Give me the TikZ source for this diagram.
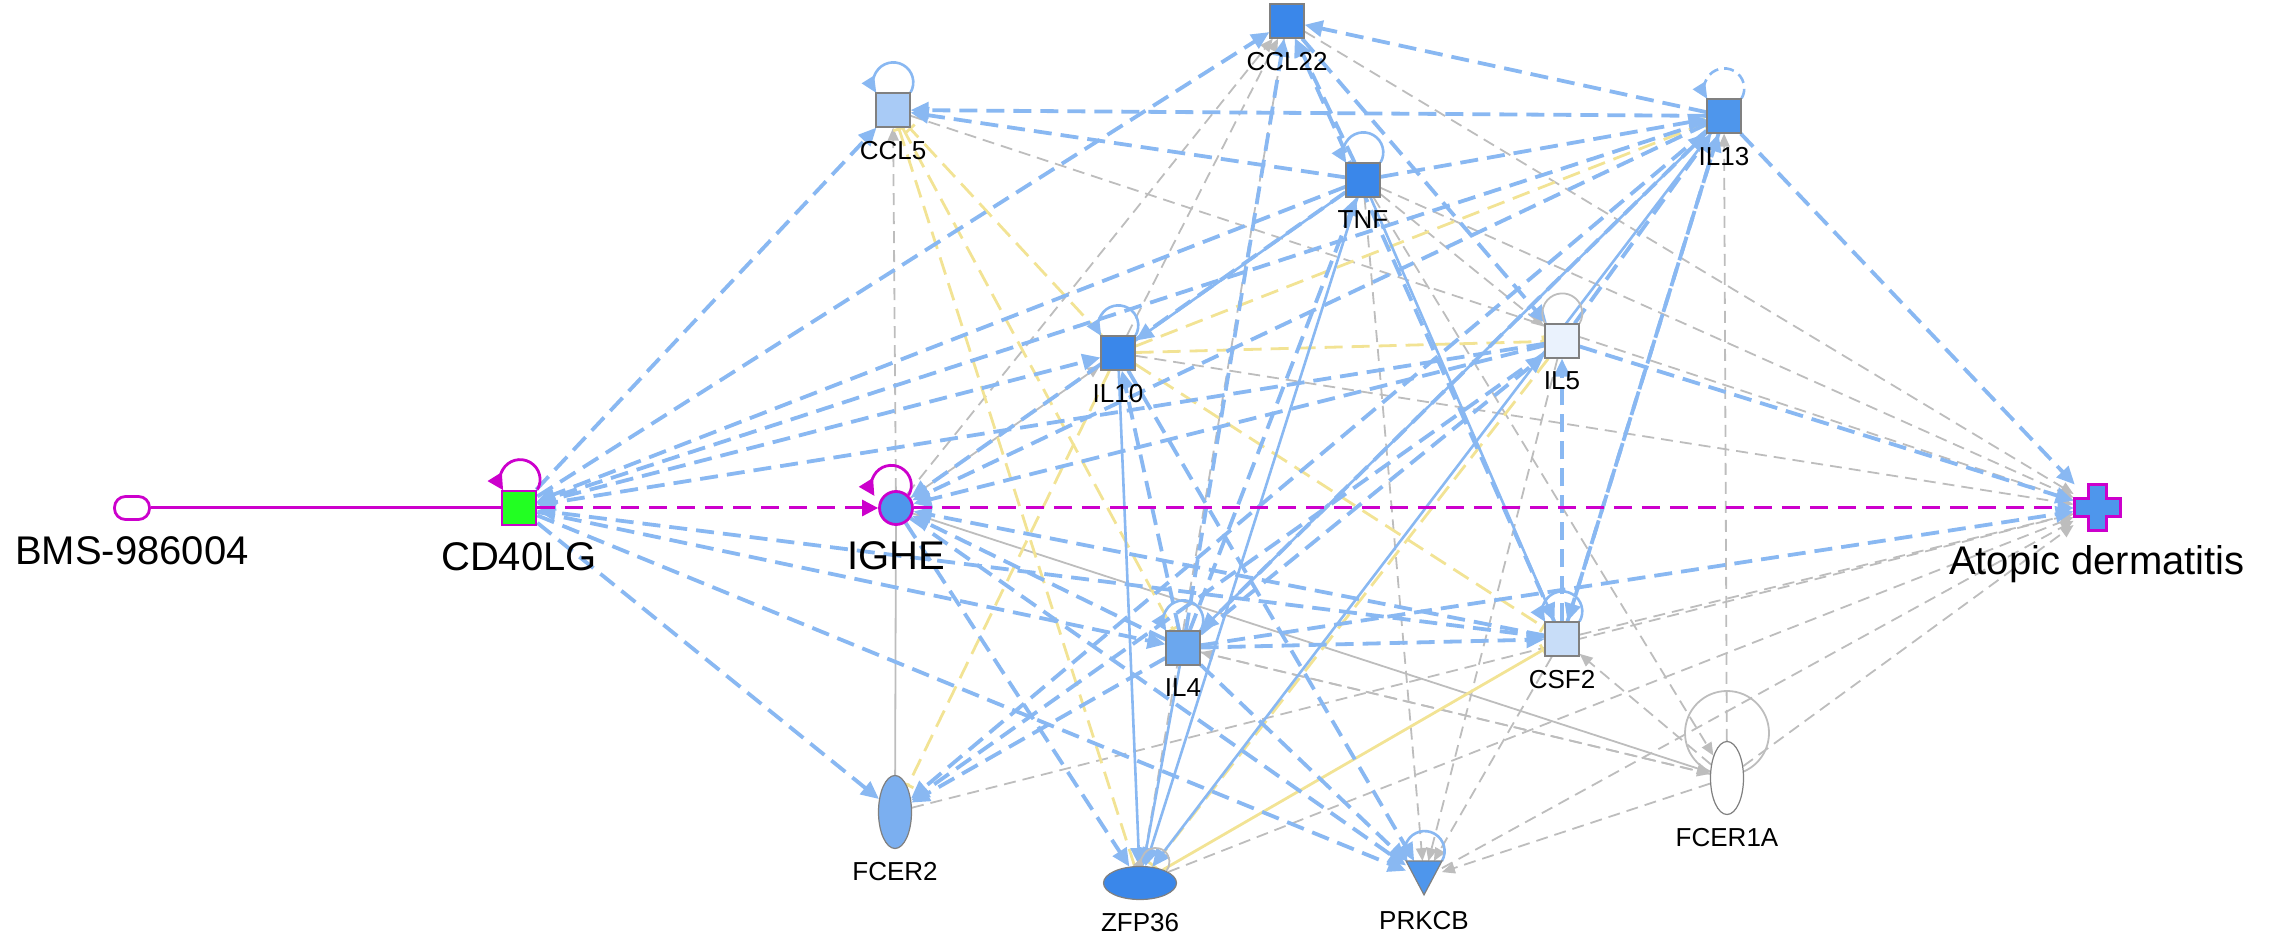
\documentclass[tikz,border=0pt]{standalone}
\usepackage{fontspec}
\setmainfont{Liberation Sans}
\usetikzlibrary{arrows.meta,positioning,shapes.geometric,backgrounds}

\definecolor{hilite}{HTML}{CC00CC}
\definecolor{linkblue}{HTML}{89B8F2}
\definecolor{linkgray}{HTML}{BDBDBD}
\definecolor{linkyellow}{HTML}{F2E394}
\definecolor{nodeline}{HTML}{808080}
\definecolor{upstrong}{HTML}{3A87EA}
\definecolor{upmid}{HTML}{4E96EC}
\definecolor{upil4}{HTML}{6BA7EE}
\definecolor{upfcer}{HTML}{7BAFF0}
\definecolor{upccl}{HTML}{A9CBF6}
\definecolor{upcsf}{HTML}{C8DDF8}
\definecolor{upweak}{HTML}{EAF2FD}
\definecolor{cdgreen}{HTML}{22FF22}

\tikzset{
  gene/.style={rectangle, draw=nodeline, line width=0.6pt, minimum width=17pt, minimum height=17pt, inner sep=0pt},
  tallnode/.style={ellipse, draw=nodeline, line width=0.6pt, minimum width=16.5pt, minimum height=36.5pt, inner sep=0pt},
  widenode/.style={ellipse, draw=nodeline, line width=0.6pt, minimum width=36.5pt, minimum height=16.5pt, inner sep=0pt},
  lbl/.style={inner sep=0pt, font=\fontsize{13}{15}\selectfont},
  biglbl/.style={inner sep=0pt, font=\fontsize{20}{24}\selectfont},
  bd/.style={linkblue, line width=1.9pt, dash pattern=on 9pt off 4.5pt, -{Triangle[length=9pt,width=8pt]}},
  bs/.style={linkblue, line width=1.3pt, -{Triangle[length=9pt,width=8pt]}},
  gd/.style={linkgray, line width=0.9pt, dash pattern=on 6pt off 3.5pt, -{Triangle[length=6.5pt,width=5.5pt]}},
  gs/.style={linkgray, line width=0.9pt, -{Triangle[length=6.5pt,width=5.5pt]}},
  yd/.style={linkyellow, line width=1.4pt, dash pattern=on 9pt off 4.5pt, -{Bar[width=6pt]}},
  ys/.style={linkyellow, line width=1.4pt, -{Bar[width=6pt]}},
  md/.style={hilite, line width=1.5pt, dash pattern=on 9pt off 5pt, -{Triangle[length=8pt,width=8pt]}},
  bloop/.style={linkblue, line width=1.3pt, -{Triangle[length=8pt,width=7pt]}},
  gloop/.style={linkgray, line width=0.9pt},
  mloop/.style={hilite, line width=1.4pt, -{Triangle[length=8pt,width=8pt]}}
}

\begin{document}
\begin{tikzpicture}[x=0.5pt,y=0.5pt]
  \useasboundingbox (0,0) rectangle (2275,937);
  % molecules
  \node[rectangle, rounded corners=5.5pt, draw=hilite, line width=1.4pt, fill=white,
        minimum width=17.5pt, minimum height=11.5pt] (bms) at (132,429) {};
  \node[gene, draw=hilite, line width=1.4pt, fill=cdgreen] (cd40lg) at (519,429) {};
  \node[circle, draw=hilite, line width=1.4pt, fill=upmid, minimum size=16.5pt, inner sep=0pt] (ighe) at (896,429) {};
  \node[rectangle, minimum size=23pt, inner sep=0pt] (atopic) at (2097,429) {};
  \node[gene, fill=upstrong] (ccl22) at (1287,916) {};
  \node[gene, fill=upccl] (ccl5) at (893,827) {};
  \node[gene, fill=upstrong] (tnf) at (1363,757) {};
  \node[gene, fill=upmid] (il13) at (1724,821) {};
  \node[gene, fill=upstrong] (il10) at (1118,584) {};
  \node[gene, fill=upweak] (il5) at (1562,596) {};
  \node[gene, fill=upil4] (il4) at (1183,289) {};
  \node[gene, fill=upcsf] (csf2) at (1562,298) {};
  \node[tallnode, fill=white] (fcer1a) at (1727,159) {};
  \node[tallnode, fill=upfcer] (fcer2) at (895,125) {};
  \node[widenode, fill=upstrong] (zfp36) at (1140,54) {};
  \node[rectangle, minimum width=17.5pt, minimum height=16.5pt, inner sep=0pt] (prkcb) at (1424,59) {};
  \filldraw[fill=upmid, draw=nodeline, line width=0.6pt] (prkcb.north west) -- (prkcb.north east) -- (prkcb.south) -- cycle;
  \filldraw[fill=upmid, draw=hilite, line width=1.5pt] (atopic.center) ++(-9,23) -- ++(18,0) -- ++(0,-14) -- ++(14,0)
     -- ++(0,-18) -- ++(-14,0) -- ++(0,-14) -- ++(-18,0) -- ++(0,14) -- ++(-14,0) -- ++(0,18) -- ++(14,0) -- cycle;

  % names
  \node[biglbl, below=7.8pt of bms] (bms-l) {BMS-986004};
  \node[biglbl, below=7.8pt of cd40lg] (cd40lg-l) {CD40LG};
  \node[biglbl, below=7.8pt of ighe] (ighe-l) {IGHE};
  \node[biglbl, below=7pt of atopic] (atopic-l) {Atopic dermatitis};
  \node[lbl, below=6.5pt of ccl22] (ccl22-l) {CCL22};
  \node[lbl, below=6.5pt of ccl5] (ccl5-l) {CCL5};
  \node[lbl, below=6.5pt of tnf] (tnf-l) {TNF};
  \node[lbl, below=6.5pt of il13] (il13-l) {IL13};
  \node[lbl, below=6.5pt of il10] (il10-l) {IL10};
  \node[lbl, below=6.5pt of il5] (il5-l) {IL5};
  \node[lbl, below=6.5pt of il4] (il4-l) {IL4};
  \node[lbl, below=6.5pt of csf2] (csf2-l) {CSF2};
  \node[lbl, below=6.5pt of fcer1a] (fcer1a-l) {FCER1A};
  \node[lbl, below=6.5pt of fcer2] (fcer2-l) {FCER2};
  \node[lbl, below=6.5pt of zfp36] (zfp36-l) {ZFP36};
  \node[lbl, below=8pt of prkcb] (prkcb-l) {PRKCB};

  \begin{scope}[on background layer]
    % gray links
    \foreach \a/\b in {ighe/ccl5, ccl5/atopic, ccl22/atopic, tnf/atopic, il10/atopic, csf2/atopic,
        fcer2/atopic, zfp36/atopic, prkcb/atopic, fcer1a/atopic, tnf/il5, tnf/prkcb, tnf/fcer1a,
        il5/prkcb, fcer1a/prkcb, fcer1a/il13, fcer1a/csf2, fcer1a/il4, ighe/ccl22, il10/ccl22,
        ccl22/zfp36, csf2/prkcb, il4/fcer1a}
      \draw[gd] (\a) -- (\b);
    \foreach \a/\b in {ighe/fcer1a, ighe/il10}
      \draw[gs] (\a) -- (\b);
    \draw[linkgray, line width=0.9pt] (fcer2) -- (ighe);
    % yellow links
    \foreach \a/\b in {il10/ccl5, zfp36/ccl5, ccl5/il4, il10/il5, il10/il13, il10/csf2, il10/fcer2, il5/zfp36}
      \draw[yd] (\a) -- (\b);
    \draw[ys] (zfp36) -- (csf2);
    % blue links
    \foreach \a/\b in {cd40lg/ccl5, cd40lg/ccl22, tnf/cd40lg, il13/cd40lg, cd40lg/il10, il5/cd40lg,
        csf2/cd40lg, cd40lg/il4, cd40lg/prkcb, cd40lg/fcer2,
        tnf/ighe, il13/ighe, il5/ighe, csf2/ighe, il4/ighe, ighe/zfp36, ighe/prkcb,
        tnf/ccl5, il13/ccl5, il13/ccl22, tnf/ccl22, il4/ccl22, csf2/ccl22, ccl22/il5,
        tnf/il13, il4/il13, il5/il13, csf2/il13, il4/tnf, il4/il10, il4/il5, il4/csf2,
        il4/fcer2, il4/prkcb, il4/atopic, il13/csf2, csf2/il5, il13/fcer2, il5/fcer2,
        il10/prkcb, il13/atopic, il5/atopic}
      \draw[bd] (\a) -- (\b);
    \foreach \a/\b in {tnf/il10, tnf/csf2, tnf/zfp36, il10/zfp36, il4/zfp36, il13/zfp36, il13/il4}
      \draw[bs] (\a) -- (\b);
    % self loops
    \foreach \n in {ccl5, tnf, il10, il4, csf2, prkcb}
      \draw[bloop] (\n.north east) arc[start angle=-30, end angle=212, radius=10pt];
    \draw[bloop, dash pattern=on 5pt off 3pt] (il13.north east) arc[start angle=-30, end angle=212, radius=10pt];
    \draw[gloop] (il5.north east) arc[start angle=-30, end angle=210, radius=10pt];
    \draw[gloop, -{Triangle[length=6pt,width=5pt]}] (zfp36.north east) arc[start angle=-40, end angle=220, radius=7pt];
    \draw[gloop] (fcer1a.center) ++(0,45) circle[radius=21pt];
    % highlighted path
    \draw[hilite, line width=1.5pt] (bms) -- (cd40lg);
    \draw[md] (cd40lg) -- (ighe);
    \draw[md, -{Triangle[length=8pt,width=8pt,color=linkblue]}] (ighe) -- (atopic);
    \foreach \n in {cd40lg, ighe}
      \draw[mloop] (\n.north east) arc[start angle=-30, end angle=212, radius=10pt];
  \end{scope}
\end{tikzpicture}
\end{document}
